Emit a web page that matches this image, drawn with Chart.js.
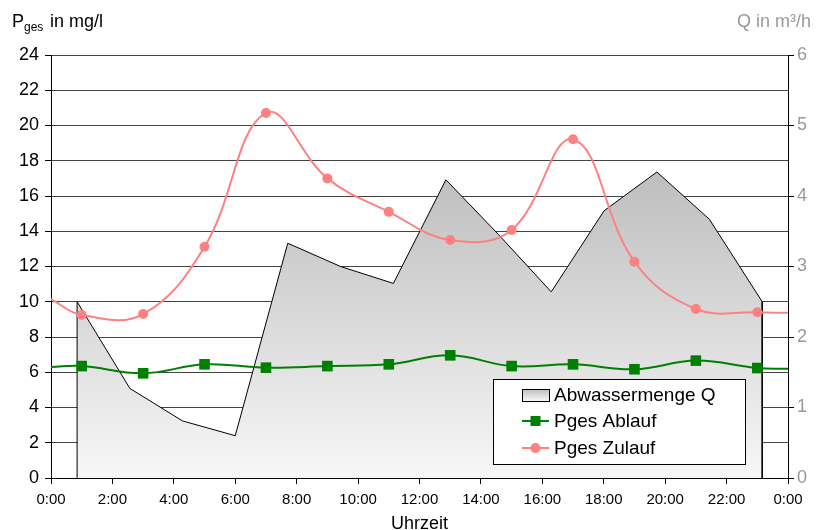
<!DOCTYPE html>
<html>
<head>
<meta charset="utf-8">
<script src="https://cdn.jsdelivr.net/npm/chart.js@4"></script>
<style>
  html, body { margin: 0; padding: 0; background: #fff; }
  canvas { display: block; }
</style>
</head>
<body>
<canvas id="chart" width="818" height="530"></canvas>
<script>
// Stunden der Messpunkte (P) und der Durchflusswerte (Q)
var pHours = [0, 1, 3, 5, 7, 9, 11, 13, 15, 17, 19, 21, 23, 24]
var ablauf = [6.3, 6.35, 5.94, 6.45, 6.26, 6.35, 6.45, 6.96, 6.35, 6.45, 6.17, 6.66, 6.24, 6.2]
var zulauf = [10.15, 9.25, 9.3, 13.12, 20.71, 17.0, 15.1, 13.5, 14.07, 19.22, 12.27, 9.59, 9.4, 9.37]

var qHours = [0.85, 2.57, 4.28, 6.0, 7.71, 9.43, 11.15, 12.86, 14.58, 16.29, 18.01, 19.73, 21.44, 23.16]
var qValues = [2.5, 1.27, 0.81, 0.6, 3.33, 3.0, 2.76, 4.23, 3.45, 2.64, 3.79, 4.34, 3.67, 2.5]

var xTicks = [0, 2, 4, 6, 8, 10, 12, 14, 16, 18, 20, 22, 24]

var FONT = "'Liberation Sans', Arial, sans-serif"
var NARROW = "'Liberation Sans Narrow', 'Liberation Sans', Arial, sans-serif"

function pts(xs, ys) {
  return xs.map(function (x, i) { return { x: x, y: ys[i] } })
}

// Flaeche mit senkrechten Kanten bis auf 0
var qData = [{ x: qHours[0], y: 0 }].concat(pts(qHours, qValues), [{ x: qHours[qHours.length - 1], y: 0 }])

function areaFill(c) {
  var chart = c.chart
  if (!chart.chartArea) return '#ddd'
  var top = chart.scales.y2.getPixelForValue(Math.max.apply(null, qValues))
  var g = chart.ctx.createLinearGradient(0, top, 0, chart.chartArea.bottom)
  g.addColorStop(0, '#bebebe')
  g.addColorStop(1, '#f7f7f7')
  return g
}

function edgeRadius(r) {
  return function (c) {
    return (c.dataIndex === 0 || c.dataIndex === pHours.length - 1) ? 0 : r
  }
}

var extras = {
  id: 'extras',
  afterDraw: function (chart) {
    var ctx = chart.ctx
    var a = chart.chartArea
    ctx.save()
    ctx.textBaseline = 'alphabetic'

    // Achsentitel
    ctx.fillStyle = '#000'
    ctx.textAlign = 'left'
    ctx.font = '18px ' + FONT
    ctx.fillText('P', 12, 27)
    ctx.font = '12px ' + FONT
    ctx.fillText('ges', 24, 31)
    ctx.font = '18px ' + FONT
    ctx.fillText('in mg/l', 50, 27)

    ctx.fillStyle = '#999'
    ctx.textAlign = 'right'
    ctx.fillText('Q in m\u00b3/h', 811, 27)

    ctx.fillStyle = '#000'
    ctx.textAlign = 'center'
    ctx.fillText('Uhrzeit', (a.left + a.right) / 2, 529)

    // Legende
    var lx = 493, ly = 379, lw = 252, lh = 85
    ctx.fillStyle = '#fff'
    ctx.fillRect(lx, ly, lw, lh)
    ctx.strokeStyle = '#000'
    ctx.lineWidth = 1
    ctx.strokeRect(lx + 0.5, ly + 0.5, lw, lh)

    var sx = 522, sw = 27
    var rows = [395, 421, 448]
    var names = chart.data.datasets.map(function (d) { return d.label })

    var g = ctx.createLinearGradient(0, rows[0] - 6, 0, rows[0] + 6)
    g.addColorStop(0, '#bebebe')
    g.addColorStop(1, '#f7f7f7')
    ctx.fillStyle = g
    ctx.fillRect(sx, rows[0] - 6, sw, 12)
    ctx.strokeRect(sx + 0.5, rows[0] - 5.5, sw, 12)

    ctx.lineWidth = 2
    ctx.strokeStyle = '#008000'
    ctx.beginPath(); ctx.moveTo(sx, rows[1]); ctx.lineTo(sx + sw, rows[1]); ctx.stroke()
    ctx.fillStyle = '#008000'
    ctx.fillRect(sx + sw / 2 - 5, rows[1] - 5, 10, 10)

    ctx.strokeStyle = '#ff8080'
    ctx.beginPath(); ctx.moveTo(sx, rows[2]); ctx.lineTo(sx + sw, rows[2]); ctx.stroke()
    ctx.fillStyle = '#ff8080'
    ctx.beginPath(); ctx.arc(sx + sw / 2, rows[2], 5, 0, Math.PI * 2); ctx.fill()

    ctx.fillStyle = '#000'
    ctx.textAlign = 'left'
    ctx.textBaseline = 'middle'
    ctx.font = '19px ' + FONT
    ctx.fillText(names[0], 554, rows[0] + 1)
    ctx.fillText(names[1], 554, rows[1] + 1)
    ctx.fillText(names[2], 554, rows[2] + 1)
    ctx.restore()
  }
}

var chart = new Chart(document.getElementById('chart').getContext('2d'), {
  type: 'line',
  data: {
    datasets: [
      {
        label: 'Abwassermenge Q',
        data: qData,
        yAxisID: 'y2',
        borderColor: '#000',
        borderWidth: 1,
        backgroundColor: areaFill,
        fill: 'origin',
        pointRadius: 0,
        tension: 0,
        order: 3,
      },
      {
        label: 'Pges Ablauf',
        data: pts(pHours, ablauf),
        yAxisID: 'y',
        borderColor: '#008000',
        backgroundColor: '#008000',
        borderWidth: 2,
        pointStyle: 'rect',
        pointRadius: edgeRadius(7.5),
        pointBorderWidth: 0,
        tension: 0.4,
        fill: false,
        order: 2,
      },
      {
        label: 'Pges Zulauf',
        data: pts(pHours, zulauf),
        yAxisID: 'y',
        borderColor: '#ff8080',
        backgroundColor: '#ff8080',
        borderWidth: 2,
        pointStyle: 'circle',
        pointRadius: edgeRadius(5),
        pointBorderWidth: 0,
        tension: 0.4,
        fill: false,
        order: 1,
      },
    ],
  },
  options: {
    responsive: false,
    animation: false,
    layout: { padding: { top: 55, left: 0, right: 0, bottom: 0 } },
    plugins: {
      legend: { display: false },
      tooltip: { enabled: false },
    },
    scales: {
      x: {
        type: 'linear',
        min: 0,
        max: 24,
        afterBuildTicks: function (s) { s.ticks = xTicks.map(function (v) { return { value: v } }) },
        afterFit: function (s) { s.height = 52 },
        grid: { drawOnChartArea: false, tickLength: 6, color: '#000' },
        border: { color: '#000' },
        ticks: {
          color: '#000',
          padding: 7,
          maxRotation: 0,
          font: { family: NARROW, size: 15 },
          callback: function (v) { return (v % 24) + ':00' },
        },
      },
      y: {
        position: 'left',
        min: 0,
        max: 24,
        afterFit: function (s) { s.width = 51 },
        grid: { color: '#444', tickColor: '#000', tickLength: 6 },
        border: { color: '#000' },
        ticks: { stepSize: 2, color: '#000', padding: 6, font: { family: FONT, size: 18 } },
      },
      y2: {
        position: 'right',
        min: 0,
        max: 6,
        afterFit: function (s) { s.width = 30 },
        grid: { drawOnChartArea: false, tickColor: '#000', tickLength: 6 },
        border: { color: '#000' },
        ticks: { stepSize: 1, color: '#999', padding: 3, font: { family: FONT, size: 18 } },
      },
    },
  },
  plugins: [extras],
})
</script>
</body>
</html>
